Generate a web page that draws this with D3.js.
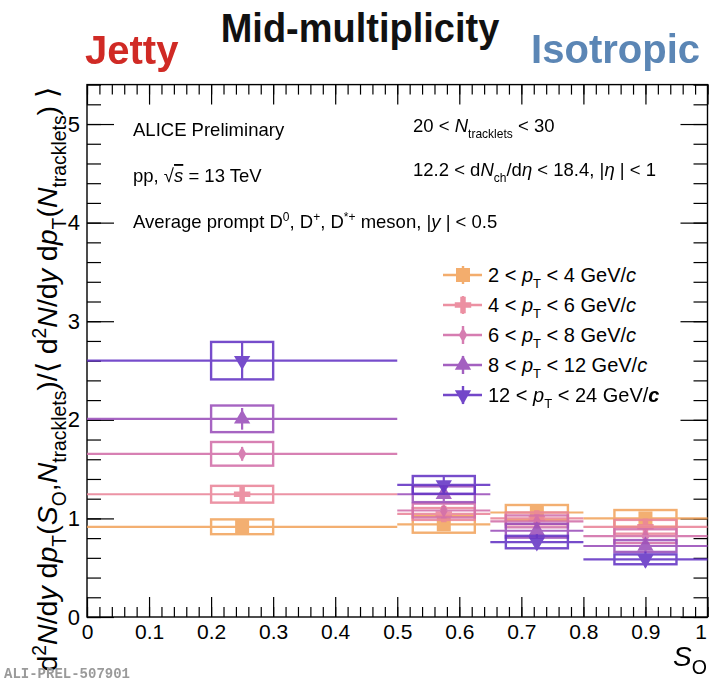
<!DOCTYPE html>
<html><head><meta charset="utf-8">
<script src="https://cdn.jsdelivr.net/npm/d3@7"></script>
<style>
body{margin:0;background:#fff;}
svg{display:block;font-family:"Liberation Sans",Arial,Helvetica,sans-serif;}
</style>
</head><body>
<svg id="c" width="709" height="681"></svg>
<script>
// ---------------- data ----------------
const binEdges   = [[0, 0.5], [0.5, 0.65], [0.65, 0.8], [0.8, 1.0]];
const binCenters = [0.25, 0.575, 0.725, 0.9];
const sysHalfWidth = 0.05;

const ptLow  = [2, 4, 6, 8, 12];
const ptHigh = [4, 6, 8, 12, 24];

const vals_2_4   = [0.915, 0.94, 1.06, 1.00];
const vals_4_6   = [1.245, 1.045, 1.00, 0.915];
const vals_6_8   = [1.655, 1.08, 0.97, 0.82];
const vals_8_12  = [2.01, 1.245, 0.875, 0.72];
const vals_12_24 = [2.60, 1.34, 0.76, 0.585];

const stat_2_4   = [0.02, 0.03, 0.03, 0.03];
const stat_4_6   = [0.05, 0.04, 0.04, 0.04];
const stat_6_8   = [0.07, 0.05, 0.05, 0.05];
const stat_8_12  = [0.11, 0.07, 0.07, 0.07];
const stat_12_24 = [0.19, 0.10, 0.08, 0.08];

const sys_2_4    = [0.075, 0.085, 0.076, 0.085];
const sys_4_6    = [0.085, 0.06, 0.06, 0.07];
const sys_6_8    = [0.12, 0.07, 0.06, 0.07];
const sys_8_12   = [0.135, 0.08, 0.07, 0.06];
const sys_12_24  = [0.19, 0.09, 0.063, 0.05];

const xTickValues = [0,0.1,0.2,0.3,0.4,0.5,0.6,0.7,0.8,0.9,1];
const xTickLabels = ["0","0.1","0.2","0.3","0.4","0.5","0.6","0.7","0.8","0.9","1"];
const yTickValues = [0,1,2,3,4,5];
const yTickLabels = ["0","1","2","3","4","5"];

const colors  = ["#f2a55e", "#ea8599", "#d26fa9", "#9a4fba", "#6434c4"];
const markers = ["square", "cross", "diamond", "triUp", "triDown"];

const series = ptLow.map((lo, i) => ({
  lo, hi: ptHigh[i],
  vals: [vals_2_4, vals_4_6, vals_6_8, vals_8_12, vals_12_24][i],
  stat: [stat_2_4, stat_4_6, stat_6_8, stat_8_12, stat_12_24][i],
  sys:  [sys_2_4, sys_4_6, sys_6_8, sys_8_12, sys_12_24][i],
  color: colors[i], marker: markers[i]
}));

// ---------------- setup ----------------
const svg = d3.select("#c");
const x = d3.scaleLinear().domain([0, 1]).range([87, 707.5]);
const y = d3.scaleLinear().domain([0, 5.4]).range([617, 84.6]);

// parts: {t, it:italic, sub, sup, bold, over}
function rich(sel, parts, fs, ratio = 0.65) {
  let shift = 0;
  parts.forEach(p => {
    const ts = sel.append("tspan").text(p.t);
    let target = 0, size = fs;
    if (p.sub) { target = 0.3 * fs; size = fs * ratio; }
    if (p.sup) { target = -0.38 * fs; size = fs * ratio; }
    ts.attr("dy", target - shift).attr("font-size", size);
    if (p.it) ts.attr("font-style", "italic");
    if (p.bold) ts.attr("font-weight", "bold");
    if (p.over) ts.attr("text-decoration", "overline");
    shift = target;
  });
}

function markerPath(type) {
  switch (type) {
    case "square":  return d3.symbol(d3.symbolSquare, 196)();
    case "cross":   return d3.symbol(d3.symbolCross, 150)();
    case "diamond": return d3.symbol(d3.symbolDiamond, 62)();
    case "triUp":   return d3.symbol(d3.symbolTriangle, 115)();
    case "triDown": return d3.symbol(d3.symbolTriangle, 115)();
  }
}
function markerTransform(type, cx, cy) {
  return type === "triDown" ? `translate(${cx},${cy}) rotate(180)` : `translate(${cx},${cy})`;
}

// ---------------- frame & axes ----------------
const gAx = svg.append("g");
const minorX = d3.range(0, 51).map(d => d / 50);
const minorY = d3.range(0, 28).map(d => d / 5);

// bottom ticks (inward) with labels
gAx.append("g").attr("transform", `translate(0,${y(0)})`)
  .call(d3.axisBottom(x).tickValues(xTickValues).tickSizeInner(-20).tickSizeOuter(0).tickPadding(7)
        .tickFormat((d, i) => xTickLabels[i]))
  .call(g => g.select(".domain").remove())
  .call(g => g.selectAll("text").attr("font-family", "Liberation Sans").attr("font-size", 21).attr("fill", "#000"))
  .call(g => g.selectAll(".tick:last-of-type text").attr("dx", -7));
gAx.append("g").attr("transform", `translate(0,${y(0)})`)
  .call(d3.axisBottom(x).tickValues(minorX).tickSizeInner(-10).tickSizeOuter(0).tickFormat(""))
  .call(g => g.select(".domain").remove());
// top ticks
gAx.append("g").attr("transform", `translate(0,${y(5.4)})`)
  .call(d3.axisBottom(x).tickValues(xTickValues).tickSizeInner(20).tickSizeOuter(0).tickFormat(""))
  .call(g => g.select(".domain").remove());
gAx.append("g").attr("transform", `translate(0,${y(5.4)})`)
  .call(d3.axisBottom(x).tickValues(minorX).tickSizeInner(10).tickSizeOuter(0).tickFormat(""))
  .call(g => g.select(".domain").remove());

// left ticks
gAx.append("g").attr("transform", `translate(${x(0)},0)`)
  .call(d3.axisLeft(y).tickValues(yTickValues).tickSizeInner(-27).tickSizeOuter(0).tickPadding(7)
        .tickFormat((d, i) => yTickLabels[i]))
  .call(g => g.select(".domain").remove())
  .call(g => g.selectAll("text").attr("font-family", "Liberation Sans").attr("font-size", 22).attr("fill", "#000"));
gAx.append("g").attr("transform", `translate(${x(0)},0)`)
  .call(d3.axisLeft(y).tickValues(minorY).tickSizeInner(-14).tickSizeOuter(0).tickFormat(""))
  .call(g => g.select(".domain").remove());
// right ticks
gAx.append("g").attr("transform", `translate(${x(1)},0)`)
  .call(d3.axisLeft(y).tickValues(yTickValues).tickSizeInner(27).tickSizeOuter(0).tickFormat(""))
  .call(g => g.select(".domain").remove());
gAx.append("g").attr("transform", `translate(${x(1)},0)`)
  .call(d3.axisLeft(y).tickValues(minorY).tickSizeInner(14).tickSizeOuter(0).tickFormat(""))
  .call(g => g.select(".domain").remove());

gAx.selectAll(".tick line").attr("stroke", "#000").attr("stroke-width", 1.2);

svg.append("rect")
  .attr("x", x(0)).attr("y", y(5.4)).attr("width", x(1) - x(0)).attr("height", y(0) - y(5.4))
  .attr("fill", "none").attr("stroke", "#000").attr("stroke-width", 1.4);

// ---------------- data marks ----------------
const gData = svg.append("g");
series.forEach(s => {
  const g = gData.append("g").attr("opacity", 0.88);
  binCenters.forEach((c, b) => {
    const v = s.vals[b];
    g.append("line").attr("x1", x(binEdges[b][0])).attr("x2", x(binEdges[b][1]))
      .attr("y1", y(v)).attr("y2", y(v)).attr("stroke", s.color).attr("stroke-width", 2.2);
    g.append("rect").attr("x", x(c - sysHalfWidth)).attr("width", x(c + sysHalfWidth) - x(c - sysHalfWidth))
      .attr("y", y(v + s.sys[b])).attr("height", y(v - s.sys[b]) - y(v + s.sys[b]))
      .attr("fill", "none").attr("stroke", s.color).attr("stroke-width", 2.4);
    g.append("line").attr("x1", x(c)).attr("x2", x(c))
      .attr("y1", y(v + s.stat[b])).attr("y2", y(v - s.stat[b]))
      .attr("stroke", s.color).attr("stroke-width", 2.2);
    g.append("path").attr("d", markerPath(s.marker)).attr("transform", markerTransform(s.marker, x(c), y(v)))
      .attr("fill", s.color);
  });
});

// ---------------- legend ----------------
const gLeg = svg.append("g");
series.forEach((s, i) => {
  const ly = 275 + i * 30;
  const g = gLeg.append("g").attr("opacity", 0.9);
  g.append("line").attr("x1", 443).attr("x2", 482).attr("y1", ly).attr("y2", ly)
    .attr("stroke", s.color).attr("stroke-width", 2.4);
  g.append("line").attr("x1", 463).attr("x2", 463).attr("y1", ly - 9).attr("y2", ly + 9)
    .attr("stroke", s.color).attr("stroke-width", 2.4);
  g.append("path").attr("d", markerPath(s.marker)).attr("transform", markerTransform(s.marker, 463, ly)).attr("fill", s.color);
  const t = gLeg.append("text").attr("x", 488).attr("y", ly + 7).attr("font-size", 20).attr("fill", "#000");
  rich(t, [{t: `${s.lo} < `}, {t: "p", it: 1}, {t: "T", sub: 1}, {t: ` < ${s.hi} GeV/`}, {t: "c", it: 1, bold: i === 4}], 20);
});

// ---------------- texts ----------------
const fs = 18.5;
let t;
svg.append("text").attr("x", 133).attr("y", 136).attr("font-size", fs).text("ALICE Preliminary");
t = svg.append("text").attr("x", 133).attr("y", 182).attr("font-size", fs);
rich(t, [{t: "pp, √"}, {t: "s", it: 1, over: 1}, {t: " = 13 TeV"}], fs);
t = svg.append("text").attr("x", 133).attr("y", 228).attr("font-size", fs);
rich(t, [{t: "Average prompt D"}, {t: "0", sup: 1}, {t: ", D"}, {t: "+", sup: 1}, {t: ", D"}, {t: "*+", sup: 1},
         {t: " meson, |"}, {t: "y", it: 1}, {t: " | < 0.5"}], fs);
t = svg.append("text").attr("x", 413).attr("y", 132).attr("font-size", fs);
rich(t, [{t: "20 < "}, {t: "N", it: 1}, {t: "tracklets", sub: 1}, {t: " < 30"}], fs);
t = svg.append("text").attr("x", 413).attr("y", 176).attr("font-size", fs);
rich(t, [{t: "12.2 < d"}, {t: "N", it: 1}, {t: "ch", sub: 1}, {t: "/d"}, {t: "η", it: 1}, {t: " < 18.4, |"}, {t: "η", it: 1}, {t: " | < 1"}], fs);

// titles
svg.append("text").attr("transform", "translate(360,42) scale(0.95,1)").attr("text-anchor", "middle").attr("font-size", 40)
  .attr("font-weight", "bold").attr("fill", "#111").text("Mid-multiplicity");
svg.append("text").attr("x", 85).attr("y", 64).attr("font-size", 40)
  .attr("font-weight", "bold").attr("fill", "#d02a25").text("Jetty");
svg.append("text").attr("x", 700).attr("y", 63).attr("text-anchor", "end").attr("font-size", 40)
  .attr("font-weight", "bold").attr("fill", "#5b86b5").text("Isotropic");

// axis titles
t = svg.append("text").attr("x", 707).attr("y", 666).attr("text-anchor", "end").attr("font-size", 28);
rich(t, [{t: "S", it: 1}, {t: "O", sub: 1}], 28, 0.7);

t = svg.append("text").attr("transform", "translate(57,87) rotate(-90)").attr("text-anchor", "end").attr("font-size", 28.5);
rich(t, [{t: "d"}, {t: "2", sup: 1}, {t: "N", it: 1}, {t: "/d"}, {t: "y", it: 1}, {t: " d"}, {t: "p", it: 1}, {t: "T", sub: 1},
         {t: "("}, {t: "S", it: 1}, {t: "O", sub: 1}, {t: ","}, {t: "N", it: 1}, {t: "tracklets", sub: 1},
         {t: ")/⟨ d"}, {t: "2", sup: 1}, {t: "N", it: 1}, {t: "/d"}, {t: "y", it: 1}, {t: " d"}, {t: "p", it: 1}, {t: "T", sub: 1},
         {t: "("}, {t: "N", it: 1}, {t: "tracklets", sub: 1}, {t: ") ⟩"}], 28.5, 0.68);

svg.append("text").attr("x", 4).attr("y", 678).attr("font-family", "Liberation Mono, DejaVu Sans Mono, monospace")
  .attr("font-weight", "bold").attr("font-size", 14).attr("fill", "#9a9a9a").text("ALI-PREL-507901");
</script>
</body></html>
